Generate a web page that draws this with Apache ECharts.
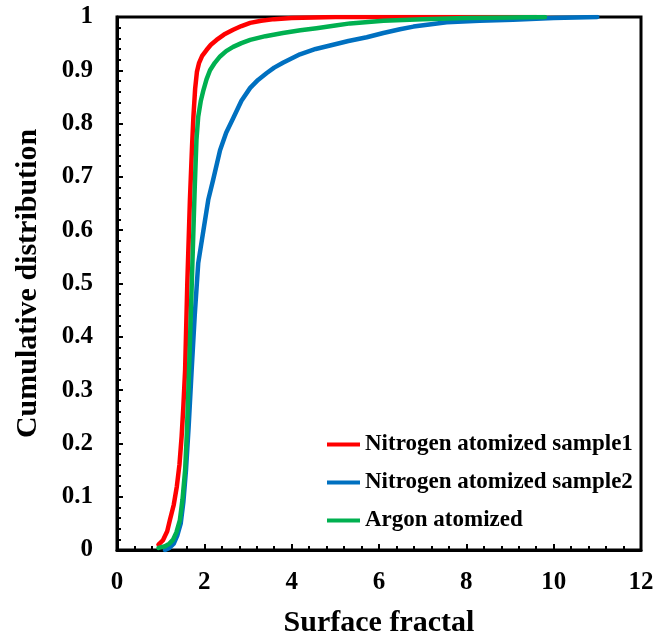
<!DOCTYPE html>
<html>
<head>
<meta charset="utf-8">
<script src="https://cdn.jsdelivr.net/npm/echarts@6/dist/echarts.min.js"></script>
<style>html,body{margin:0;padding:0;background:#fff;}#c{width:655px;height:631px;}</style>
</head>
<body>
<div id="c"></div>
<script>
var seriesNames = ['Nitrogen atomized sample1', 'Nitrogen atomized sample2', 'Argon atomized'];
var seriesColors = ['#FF0000', '#0070C0', '#00B050'];

var sample1X = [0.95, 1.05, 1.15, 1.21, 1.3, 1.37, 1.43, 1.48, 1.52, 1.56, 1.61, 1.67, 1.72, 1.75, 1.79, 1.83, 1.88, 1.95, 2.05, 2.15, 2.28, 2.45, 2.66, 2.85, 3.05, 3.3, 3.6, 4.0, 4.5, 5.0, 6.5, 8.0, 9.6];
var sample1Y = [0.01, 0.018, 0.035, 0.056, 0.085, 0.119, 0.16, 0.213, 0.27, 0.338, 0.5, 0.657, 0.76, 0.813, 0.866, 0.897, 0.914, 0.927, 0.938, 0.948, 0.957, 0.967, 0.976, 0.983, 0.989, 0.993, 0.996, 0.998, 0.999, 1.0, 1.0, 1.0, 1.0];

var sample2X = [1.1, 1.2, 1.3, 1.38, 1.46, 1.52, 1.58, 1.64, 1.71, 1.78, 1.86, 1.98, 2.09, 2.2, 2.36, 2.5, 2.66, 2.85, 3.05, 3.23, 3.43, 3.6, 3.8, 4.19, 4.55, 4.95, 5.3, 5.72, 6.1, 6.48, 6.79, 7.15, 7.55, 8.3, 9.07, 10.0, 11.0];
var sample2Y = [0.0, 0.004, 0.012, 0.027, 0.05, 0.09, 0.15, 0.23, 0.338, 0.44, 0.538, 0.6, 0.657, 0.694, 0.75, 0.783, 0.81, 0.843, 0.867, 0.882, 0.895, 0.905, 0.914, 0.93, 0.94, 0.948, 0.955, 0.962, 0.97, 0.977, 0.982, 0.986, 0.99, 0.993, 0.995, 0.998, 1.0];

var argonX = [0.95, 1.1, 1.2, 1.28, 1.36, 1.44, 1.5, 1.56, 1.6, 1.65, 1.72, 1.78, 1.82, 1.86, 1.92, 1.98, 2.05, 2.13, 2.24, 2.36, 2.5, 2.66, 2.85, 3.05, 3.4, 3.8, 4.2, 4.57, 5.0, 5.34, 6.1, 7.0, 8.0, 9.0, 9.8];
var argonY = [0.004, 0.007, 0.012, 0.019, 0.033, 0.056, 0.095, 0.15, 0.22, 0.338, 0.52, 0.68, 0.77, 0.813, 0.843, 0.863, 0.883, 0.9, 0.914, 0.926, 0.936, 0.944, 0.951, 0.957, 0.964, 0.97, 0.975, 0.979, 0.984, 0.988, 0.993, 0.996, 0.998, 0.999, 1.0];

var xTicks = [0, 2, 4, 6, 8, 10, 12];
var yTicks = [0, 0.1, 0.2, 0.3, 0.4, 0.5, 0.6, 0.7, 0.8, 0.9, 1];

function zip(xs, ys) { return xs.map(function (x, i) { return [x, ys[i]]; }); }
var allData = [zip(sample1X, sample1Y), zip(sample2X, sample2Y), zip(argonX, argonY)];

var font = 'Liberation Serif';
var chart = echarts.init(document.getElementById('c'), null, {renderer: 'canvas'});
chart.setOption({
  animation: false,
  grid: {left: 117, right: 14, top: 17, bottom: 81, containLabel: false, outerBoundsMode: 'none',
    show: true, borderColor: '#000', borderWidth: 3, backgroundColor: 'transparent'},
  legend: {
    orient: 'vertical', left: 322, top: 428, itemGap: 15, itemWidth: 33, itemHeight: 4, icon: 'rect',
    data: seriesNames,
    textStyle: {fontFamily: font, fontWeight: 'bold', fontSize: 23, color: '#000', lineHeight: 23}
  },
  xAxis: {
    type: 'value', min: xTicks[0], max: xTicks[xTicks.length - 1], interval: 2,
    name: 'Surface fractal', nameLocation: 'middle', nameGap: 58,
    nameTextStyle: {fontFamily: font, fontWeight: 'bold', fontSize: 30, color: '#000'},
    axisLine: {show: true, lineStyle: {color: '#000', width: 3}},
    axisTick: {show: true, inside: true, length: 6, lineStyle: {color: '#000', width: 2}},
    minorTick: {show: true, splitNumber: 5, length: 4, lineStyle: {color: '#000', width: 2}},
    splitLine: {show: false},
    axisLabel: {margin: 20, fontFamily: font, fontWeight: 'bold', fontSize: 25, color: '#000'}
  },
  yAxis: {
    type: 'value', min: yTicks[0], max: yTicks[yTicks.length - 1], interval: 0.1,
    name: 'Cumulative distribution', nameLocation: 'middle', nameGap: 74,
    nameTextStyle: {fontFamily: font, fontWeight: 'bold', fontSize: 30, color: '#000'},
    axisLine: {show: true, lineStyle: {color: '#000', width: 3}},
    axisTick: {show: true, inside: true, length: 6, lineStyle: {color: '#000', width: 2}},
    minorTick: {show: true, splitNumber: 5, length: 4, lineStyle: {color: '#000', width: 2}},
    splitLine: {show: false},
    axisLabel: {margin: 24, fontFamily: font, fontWeight: 'bold', fontSize: 25, color: '#000',
      formatter: function (v) { return String(Math.round(v * 10) / 10); }}
  },
  series: allData.map(function (d, i) {
    return {
      name: seriesNames[i], type: 'line', data: d, showSymbol: false, symbol: 'none',
      smooth: false,
      lineStyle: {color: seriesColors[i], width: 4.5, join: 'round', cap: 'round'}, itemStyle: {color: seriesColors[i]},
      z: i === 2 ? 4 : (i === 1 ? 3 : 2)
    };
  })
});
</script>
</body>
</html>
